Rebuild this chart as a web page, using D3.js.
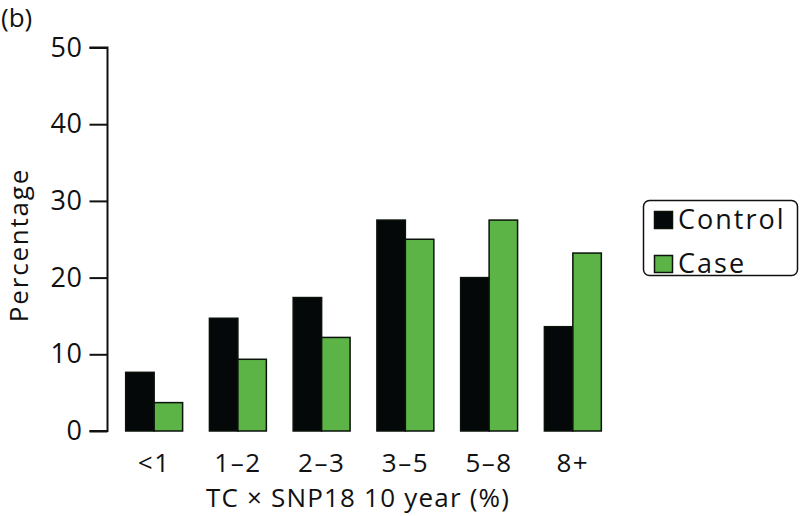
<!DOCTYPE html>
<html><head><meta charset="utf-8">
<script src="https://cdn.jsdelivr.net/npm/d3@7"></script>
<style>
body{margin:0;background:#fff;}
svg{display:block;}
text{font-family:"Open Sans","Noto Sans",sans-serif;fill:#111;}
</style></head>
<body><svg id="c" width="800" height="516"></svg>
<script>
const categories = ["<1","1–2","2–3","3–5","5–8","8+"];
const seriesNames = ["Control","Case"];
const controlValues = [7.65, 14.7, 17.4, 27.5, 20.0, 13.6];
const caseValues = [3.7, 9.35, 12.2, 25.0, 27.5, 23.2];
const yTicks = [0,10,20,30,40,50];
const colors = ["#050808","#5db446"];

const svg = d3.select("#c");
const x0 = d3.scaleBand().domain(categories).range([107, 620]).paddingInner(0.32).paddingOuter(0.223);
const x1 = d3.scaleBand().domain(seriesNames).range([0, x0.bandwidth()]);
const y = d3.scaleLinear().domain([0,50]).range([431, 47.5]);

const data = categories.map((c,i)=>({cat:c, vals:[controlValues[i], caseValues[i]]}));

const g = svg.append("g");
g.selectAll("g.grp").data(data).join("g").attr("class","grp")
 .attr("transform", d=>`translate(${x0(d.cat)},0)`)
 .selectAll("rect").data(d=>d.vals.map((v,k)=>({v,k})))
 .join("rect")
 .attr("x", d=>x1(seriesNames[d.k]))
 .attr("width", x1.bandwidth())
 .attr("y", d=>y(d.v))
 .attr("height", d=>y(0)-y(d.v))
 .attr("fill", d=>colors[d.k])
 .attr("stroke", "#0a120a").attr("stroke-width", 1.5);

// y axis
const ya = svg.append("g").attr("transform","translate(107.5,0)")
 .call(d3.axisLeft(y).tickValues(yTicks).tickSize(18).tickPadding(7).tickFormat(d3.format("d")));
ya.select(".domain").attr("stroke","#111").attr("stroke-width",2).attr("d","M-18,"+y(50)+"H0V"+y(0)+"H-18");
ya.selectAll(".tick line").attr("stroke","#111").attr("stroke-width",2);
ya.selectAll(".tick text").attr("font-size",27).attr("font-family","Open Sans").attr("fill","#111").attr("letter-spacing",0.5);

// x labels
const xa = svg.append("g").attr("transform","translate(0,431)")
 .call(d3.axisBottom(x0).tickSize(0).tickPadding(41));
xa.select(".domain").remove();
xa.selectAll(".tick text").attr("font-size",26).attr("font-family","Open Sans").attr("fill","#111")
 .attr("dy",0).attr("letter-spacing",1.5);

svg.append("text").attr("x",358).attr("y",507).attr("text-anchor","middle").attr("font-size",26)
 .attr("letter-spacing",1.2).text("TC × SNP18 10 year (%)");
svg.append("text").attr("transform","translate(28,245) rotate(-90)").attr("text-anchor","middle").attr("font-size",26)
 .attr("letter-spacing",1.8).text("Percentage");
svg.append("text").attr("x",1).attr("y",27).attr("font-size",26).text("(b)");

// legend
const lg = svg.append("g");
lg.append("rect").attr("x",643.5).attr("y",200.5).attr("width",154).attr("height",75).attr("rx",6)
 .attr("fill","#fff").attr("stroke","#111").attr("stroke-width",1.5);
seriesNames.forEach((s,i)=>{
  lg.append("rect").attr("x",654.5).attr("y",211.5+i*44).attr("width",18).attr("height",17)
   .attr("fill",colors[i]).attr("stroke","#0a120a").attr("stroke-width",1.5);
  lg.append("text").attr("x",678).attr("y",229+i*44).attr("font-size",27).attr("letter-spacing",2).text(s);
});
</script></body></html>
